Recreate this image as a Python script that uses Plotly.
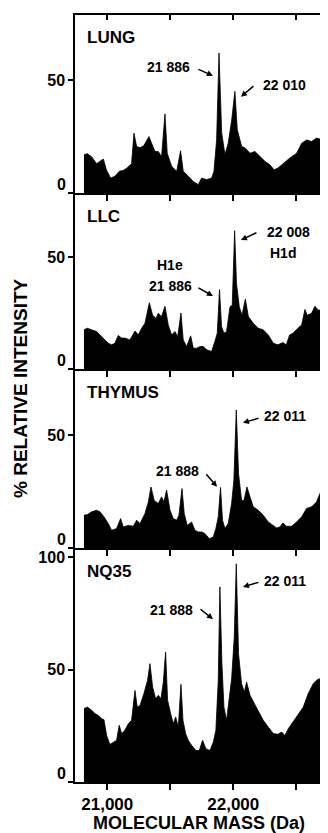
import plotly.graph_objects as go

# ---------------- data (molecular mass in Da, % relative intensity) ----------------
mass_lung = [20815, 20842, 20876, 20916, 20942, 20969, 20995, 21027, 21061, 21095, 21127, 21154,
             21193, 21212, 21233, 21260, 21291, 21331, 21352, 21379, 21405, 21431, 21458, 21476,
             21511, 21551, 21582, 21603, 21643, 21683, 21722, 21749, 21789, 21828, 21847, 21868,
             21887, 21908, 21934, 21960, 21987, 22013, 22032, 22067, 22093, 22133, 22172, 22212,
             22251, 22291, 22323, 22354, 22394, 22447, 22503, 22543, 22582, 22622, 22661, 22688, 22696]
int_lung = [16.9, 17.4, 16, 13, 14, 15, 10, 6.6, 7.4, 9.6, 10, 11,
            13, 26.5, 20.6, 20, 21, 25, 22, 18.4, 18.4, 16, 35, 17.6,
            11.8, 9.6, 18.7, 9.6, 7.4, 5.1, 3.7, 6.6, 5.9, 6.6, 9.6, 23.6,
            62, 26.7, 17, 22, 32, 45, 28, 20.6, 20, 17.6, 18.4, 16,
            14, 12.5, 10.3, 11, 13, 15.4, 17.6, 22, 23.5, 22.8, 24.3, 23.8, 23.8]

mass_llc = [20815, 20842, 20876, 20916, 20942, 20982, 21008, 21035, 21061, 21087, 21114, 21140,
            21180, 21220, 21246, 21273, 21299, 21334, 21360, 21387, 21405, 21431, 21458, 21484,
            21511, 21537, 21559, 21585, 21603, 21630, 21662, 21683, 21709, 21736, 21762, 21789,
            21828, 21854, 21873, 21891, 21907, 21926, 21947, 21974, 21992, 22011, 22026, 22048,
            22069, 22096, 22120, 22159, 22199, 22238, 22278, 22318, 22354, 22394, 22421, 22447,
            22474, 22513, 22543, 22569, 22587, 22622, 22648, 22675, 22696]
int_llc = [17.5, 18.2, 17.5, 16.7, 15.2, 13, 11.5, 10.8, 11.5, 15, 13.8, 13.8,
           13, 17, 15.2, 18.2, 20.4, 29.6, 24, 22.6, 24.9, 23.4, 28, 19.7,
           15.2, 16.7, 14.5, 25, 13, 10, 14.8, 9.3, 9.3, 10, 10, 8.6,
           7.8, 12.3, 16, 35.5, 19, 16, 16.7, 27.8, 28.5, 61.8, 38, 27.8,
           24, 31.2, 23.4, 20.4, 18.2, 17.5, 15.2, 11.5, 10.8, 11.8, 10.8, 15.2,
           16, 18.2, 19.7, 26.6, 24, 24.9, 28, 26.3, 26.3]

mass_thymus = [20815, 20842, 20876, 20916, 20942, 20974, 21008, 21035, 21074, 21106, 21127, 21167,
               21207, 21233, 21260, 21299, 21326, 21347, 21373, 21405, 21431, 21450, 21471, 21498,
               21524, 21551, 21569, 21593, 21611, 21635, 21669, 21696, 21722, 21749, 21775, 21810,
               21842, 21862, 21881, 21899, 21915, 21934, 21960, 21987, 22005, 22024, 22042, 22066,
               22085, 22109, 22133, 22159, 22199, 22238, 22278, 22318, 22344, 22371, 22394, 22421,
               22463, 22503, 22543, 22582, 22622, 22661, 22688, 22696]
int_thymus = [14.5, 14.8, 16, 16.7, 16, 13.8, 10.8, 7.8, 8.6, 13, 9.3, 10,
              9.6, 12.3, 10.8, 15.2, 20.4, 27, 21, 19.7, 22.6, 20.4, 25.6, 16.7,
              13, 12.3, 14.5, 26.3, 15.2, 10, 11.5, 7.8, 7.1, 7.1, 6.4, 4.1,
              4.9, 8.6, 13.8, 26.8, 12.3, 8.6, 10.8, 19.7, 30, 61.1, 33, 21,
              21, 27, 22.6, 18.2, 16.7, 14.5, 11.5, 10, 8.9, 9.3, 11.1, 9.6,
              9.6, 11.5, 13.8, 17.5, 18.2, 20.4, 24.1, 23.4]

mass_nq35 = [20815, 20842, 20876, 20903, 20929, 20955, 20974, 20995, 21021, 21048, 21074, 21095,
             21114, 21140, 21167, 21193, 21220, 21238, 21260, 21291, 21320, 21339, 21360, 21384,
             21405, 21426, 21445, 21463, 21479, 21503, 21524, 21543, 21564, 21585, 21601, 21622,
             21643, 21669, 21704, 21730, 21757, 21783, 21815, 21842, 21862, 21881, 21894, 21910,
             21926, 21947, 21968, 21987, 22008, 22024, 22042, 22066, 22088, 22106, 22133, 22159,
             22199, 22238, 22278, 22318, 22354, 22384, 22410, 22437, 22474, 22513, 22556, 22595,
             22635, 22661, 22683, 22696]
int_nq35 = [32.6, 33.3, 31.9, 30.4, 29.6, 28.1, 27.7, 20.7, 16.7, 17.8, 18.5, 25.2,
            21.5, 23, 25.9, 27.4, 40.7, 33.3, 34, 39.3, 45.2, 52.6, 42.2, 37,
            38.5, 37, 44.4, 57.8, 36.3, 30.4, 25.9, 28.9, 24.4, 43.4, 27.4, 21.5,
            18.5, 16.3, 14, 14, 18.5, 14.8, 14, 17.8, 23, 45.2, 86.7, 52.6,
            33.3, 27.4, 36.3, 45.9, 64.4, 97, 57, 43.7, 40, 44.4, 38.5, 35.6,
            31.1, 27.4, 24.4, 21.5, 21.2, 22.2, 20.7, 23.7, 26.7, 29.6, 33.3, 39.3,
            43.7, 45.2, 45.9, 45.2]

panel_names = ["LUNG", "LLC", "THYMUS", "NQ35"]
x_tick_values = [21000, 21500, 22000, 22500]
x_tick_text = ["21,000", "", "22,000", ""]
y_ticks_small = [0, 50]
y_text_small = ["", "50"]
y_ticks_large = [0, 50, 100]
y_text_large = ["", "50", "100"]

# peak labels: (panel index, text, x, y) and arrows (panel, head x, head y, ax, ay)
peak_labels = [
    (0, "21 886", 21483, 55.9), (0, "22 010", 22403, 47.9),
    (1, "22 008", 22435, 61.2), (1, "H1d", 22395, 51.8), (1, "H1e", 21498, 46.4), (1, "21 886", 21498, 37.1),
    (2, "22 011", 22411, 58.5), (2, "21 888", 21561, 34.2),
    (3, "22 011", 22411, 89.3), (3, "21 888", 21506, 76.4),
]
peak_arrows = [
    (0, 21839, 51.9, -16, -7), (0, 22061, 42.6, 14, -12),
    (1, 22061, 57.6, 17, -8), (1, 21839, 32.6, -16, -9),
    (2, 22077, 55.4, 17, -5), (2, 21871, 27.1, -12, -14),
    (3, 22077, 86.7, 17, -5), (3, 21839, 72.4, -14, -11),
]
panel_label_y = [68.7, 67.9, 68.7, 93.5]

# ---------------- layout geometry ----------------
# the page body has an 8px default margin; figure is sized so it ends at the window edge
W, H = 320, 825
M_L, M_R, M_T, M_B = 67, 0, 7, 51
domains = [[0.76793, 1.0], [0.53846, 0.76793], [0.30508, 0.53846], [0.0, 0.30508]]
y_tops = [78.8, 78.6, 79.2, 104.0]
XR = [20744, 22752]

FONT = "Liberation Sans"
TICKFONT = dict(family=FONT, size=16, color="black", weight="bold")
series = [(mass_lung, int_lung), (mass_llc, int_llc), (mass_thymus, int_thymus), (mass_nq35, int_nq35)]

fig = go.Figure()
for i, (m, v) in enumerate(series):
    sfx = "" if i == 0 else str(i + 1)
    fig.add_trace(go.Scatter(x=m, y=v, mode="lines", fill="tozeroy",
                             line=dict(color="black", width=0.8), fillcolor="black",
                             xaxis="x" + sfx, yaxis="y" + sfx, hoverinfo="skip", showlegend=False))

# invisible helper traces for the top frame axis and the zero-label axes
fig.add_trace(go.Scatter(x=[XR[0]], y=[0], mode="markers", marker=dict(opacity=0),
                         xaxis="x5", yaxis="y", showlegend=False, hoverinfo="skip"))
for i in range(4):
    sfx = "" if i == 0 else str(i + 1)
    fig.add_trace(go.Scatter(x=[XR[0]], y=[0], mode="markers", marker=dict(opacity=0),
                             xaxis="x" + sfx, yaxis="y" + str(5 + i), showlegend=False, hoverinfo="skip"))

layout = dict(width=W, height=H, margin=dict(l=M_L, r=M_R, t=M_T, b=M_B, autoexpand=False),
              paper_bgcolor="white", plot_bgcolor="white", showlegend=False)

for i in range(4):
    sfx = "" if i == 0 else str(i + 1)
    last = (i == 3)
    layout["xaxis" + sfx] = dict(
        range=XR, anchor="y" + sfx, domain=[0, 1], showgrid=False, zeroline=False,
        showline=True, linecolor="black", linewidth=1.5,
        ticks="outside", ticklen=6, tickwidth=1.5, tickcolor="black",
        tickvals=x_tick_values, ticktext=x_tick_text, showticklabels=last,
        tickfont=dict(family=FONT, size=17, color="black", weight="bold"), automargin=False)
    layout["yaxis" + sfx] = dict(
        range=[0, y_tops[i]], anchor="x" + sfx, domain=domains[i], showgrid=False, zeroline=False,
        showline=True, linecolor="black", linewidth=1.5,
        ticks="outside", ticklen=5, tickwidth=1.5, tickcolor="black",
        tickvals=y_ticks_large if last else y_ticks_small,
        ticktext=y_text_large if last else y_text_small,
        tickfont=TICKFONT, automargin=False)
    # zero label, drawn a little above its tick as in the original figure
    layout["yaxis" + str(5 + i)] = dict(
        range=[0, y_tops[i]], overlaying="y" + sfx, anchor="x" + sfx, side="left",
        showgrid=False, zeroline=False, showline=False,
        ticks="outside", ticklen=5, tickwidth=0, tickcolor="rgba(0,0,0,0)",
        tickvals=[0], ticktext=["0"], ticklabelshift=-9, tickfont=TICKFONT, automargin=False)

layout["xaxis5"] = dict(range=XR, overlaying="x", anchor="y", side="top", showgrid=False,
                        zeroline=False, showline=True, linecolor="black", linewidth=1.5,
                        ticks="inside", ticklen=5, tickwidth=1.5, tickcolor="black",
                        tickvals=x_tick_values, showticklabels=False, automargin=False)

annotations = []
for i, name in enumerate(panel_names):
    sfx = "" if i == 0 else str(i + 1)
    annotations.append(dict(text=name, x=20823, y=panel_label_y[i], xref="x" + sfx, yref="y" + sfx,
                            xanchor="left", yanchor="middle", showarrow=False,
                            font=dict(family=FONT, size=17, color="black", weight="bold")))
for p, txt, x, y in peak_labels:
    sfx = "" if p == 0 else str(p + 1)
    annotations.append(dict(text=txt, x=x, y=y, xref="x" + sfx, yref="y" + sfx,
                            xanchor="center", yanchor="middle", showarrow=False,
                            font=dict(family=FONT, size=14, color="black", weight="bold")))
for p, x, y, ax, ay in peak_arrows:
    sfx = "" if p == 0 else str(p + 1)
    annotations.append(dict(text="", x=x, y=y, xref="x" + sfx, yref="y" + sfx,
                            showarrow=True, ax=ax, ay=ay, arrowhead=2, arrowsize=0.8,
                            arrowwidth=1.5, arrowcolor="black", standoff=0))
annotations.append(dict(text="MOLECULAR MASS (Da)", x=0.49, y=(782 - 823) / 767,
                        xref="paper", yref="paper", xanchor="center", yanchor="middle",
                        showarrow=False, font=dict(family=FONT, size=18, color="black", weight="bold")))
annotations.append(dict(text="% RELATIVE INTENSITY", x=(20 - 75) / 253, y=(782 - 388) / 767,
                        xref="paper", yref="paper", xanchor="center", yanchor="middle", textangle=-90,
                        showarrow=False, font=dict(family=FONT, size=19, color="black", weight="bold")))
layout["annotations"] = annotations

fig.update_layout(**layout)
fig.write_html("out.html")
